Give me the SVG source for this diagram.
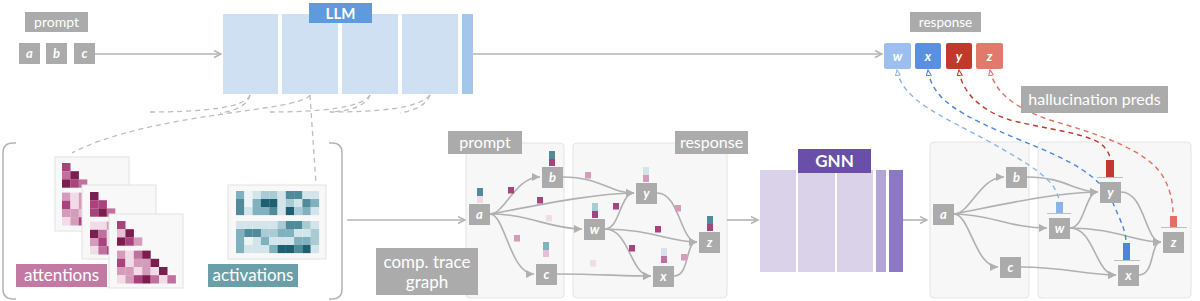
<svg xmlns="http://www.w3.org/2000/svg" width="1200" height="301" viewBox="0 0 1200 301">
<defs>
<style>
text{font-family:Lato,"Liberation Sans",sans-serif;fill:#fff;text-anchor:middle}
.lbl{fill:#ababab}
.node{fill:#ababab}
.tok{font-style:italic;font-weight:700;font-size:13px}
.panel{fill:#f7f7f7;stroke:#e4e4e4;stroke-width:1}
.mpanel{fill:#f8f8f8;stroke:#e2e2e2;stroke-width:1}
.edge{fill:none;stroke:#b0b0b0;stroke-width:1.6}
.main{fill:none;stroke:#b4b4b4;stroke-width:1.6}
.dash{fill:none;stroke:#bdbdbd;stroke-width:1.3;stroke-dasharray:5 4}
.hd{fill:none;stroke-width:1.4;stroke-dasharray:5 4}
.p0{fill:#f0dbe6}.p1{fill:#e5bfd3}.p2{fill:#d59bbb}.p3{fill:#c0709d}.p4{fill:#a8437e}.p5{fill:#7d1c4e}
.t0{fill:#eef4f5}.t1{fill:#d3e5ea}.t2{fill:#a8cbd4}.t3{fill:#7fb1be}.t4{fill:#4f8b9b}.t5{fill:#1f5f72}
.llm{fill:#cfe0f2}.gnn{fill:#dad2e9}
</style>
<marker id="chev" markerUnits="userSpaceOnUse" markerWidth="10" markerHeight="10" refX="8" refY="4" orient="auto">
<path d="M1,0.5 L8,4 L1,7.5" fill="none" stroke="#b4b4b4" stroke-width="1.4"/>
</marker>
<marker id="tri" markerUnits="userSpaceOnUse" markerWidth="10" markerHeight="10" refX="8" refY="4" orient="auto">
<path d="M0,0 L8,4 L0,8 z" fill="#b0b0b0"/>
</marker>
<marker id="hw" markerUnits="userSpaceOnUse" markerWidth="8" markerHeight="8" refX="6" refY="3" orient="auto-start-reverse">
<path d="M0.5,0.5 L6,3 L0.5,5.5 z" fill="#fff" stroke="#8ab4ea" stroke-width="1"/>
</marker>
<marker id="hx" markerUnits="userSpaceOnUse" markerWidth="8" markerHeight="8" refX="6" refY="3" orient="auto-start-reverse">
<path d="M0.5,0.5 L6,3 L0.5,5.5 z" fill="#fff" stroke="#4a86e0" stroke-width="1"/>
</marker>
<marker id="hy" markerUnits="userSpaceOnUse" markerWidth="8" markerHeight="8" refX="6" refY="3" orient="auto-start-reverse">
<path d="M0.5,0.5 L6,3 L0.5,5.5 z" fill="#fff" stroke="#c0392b" stroke-width="1"/>
</marker>
<marker id="hz" markerUnits="userSpaceOnUse" markerWidth="8" markerHeight="8" refX="6" refY="3" orient="auto-start-reverse">
<path d="M0.5,0.5 L6,3 L0.5,5.5 z" fill="#fff" stroke="#e07060" stroke-width="1"/>
</marker>
</defs>
<rect width="1200" height="301" fill="#fff"/>

<!-- prompt tokens -->
<g id="prompt-label"><rect class="lbl" x="25" y="12" width="63" height="20"/><text x="56.5" y="27" font-size="14">prompt</text></g>
<g id="tok-a"><rect class="node" x="19" y="43" width="21" height="21"/><text class="tok" x="29.5" y="58">a</text></g>
<g id="tok-b"><rect class="node" x="46" y="43" width="21" height="21"/><text class="tok" x="56.5" y="58">b</text></g>
<g id="tok-c"><rect class="node" x="74" y="43" width="21" height="21"/><text class="tok" x="84.5" y="58">c</text></g>

<!-- LLM -->
<g id="llm">
<rect class="llm" x="223" y="14" width="55" height="80"/>
<rect class="llm" x="282" y="14" width="56" height="80"/>
<rect class="llm" x="342" y="14" width="56" height="80"/>
<rect class="llm" x="402" y="14" width="56" height="80"/>
<rect x="462" y="14" width="11" height="80" fill="#a3c6ea"/>
<rect x="309" y="3" width="63" height="20" fill="#5d9bdc"/>
<text x="340.5" y="18.5" font-size="15" font-weight="700">LLM</text>
</g>

<!-- response tokens -->
<g id="response-label"><rect class="lbl" x="910" y="12" width="71" height="20"/><text x="945.5" y="27" font-size="13.5">response</text></g>
<g id="resp-w"><rect x="884" y="43" width="27" height="26" rx="2" fill="#9dbff0"/><text class="tok" x="897.5" y="61">w</text></g>
<g id="resp-x"><rect x="915" y="43" width="26" height="26" rx="2" fill="#5b8fe0"/><text class="tok" x="928" y="61">x</text></g>
<g id="resp-y"><rect x="946" y="43" width="26" height="26" rx="2" fill="#c0392b"/><text class="tok" x="959" y="61">y</text></g>
<g id="resp-z"><rect x="976" y="43" width="27" height="26" rx="2" fill="#e07a6a"/><text class="tok" x="989.5" y="61">z</text></g>

<!-- bracket -->
<g id="bracket" fill="none" stroke="#b4b4b4" stroke-width="1.5">
<path d="M16,143 L13,143 Q3,143 3,153 L3,289 Q3,299 13,299 L16,299"/>
<path d="M329,143 L332,143 Q342,143 342,153 L342,289 Q342,299 332,299 L329,299"/>
</g>

<!-- attentions -->
<g id="attentions">
<rect class="mpanel" x="55" y="157" width="74" height="74"/>
<g transform="translate(62,163)">
<rect class="p4" x="0" y="0" width="8.5" height="8.3"/>
<rect class="p3" x="0" y="8.2" width="8.5" height="8.3"/><rect class="p5" x="8.4" y="8.2" width="8.5" height="8.3"/>
<rect class="p5" x="0" y="16.4" width="8.5" height="8.3"/><rect class="p4" x="8.4" y="16.4" width="8.5" height="8.3"/><rect class="p3" x="16.8" y="16.4" width="8.5" height="8.3"/>
<rect class="p2" x="0" y="29.6" width="8.5" height="8.3"/><rect class="p0" x="8.4" y="29.6" width="8.5" height="8.3"/><rect class="p2" x="16.8" y="29.6" width="8.5" height="8.3"/><rect class="p4" x="25.2" y="29.6" width="8.5" height="8.3"/>
<rect class="p4" x="0" y="37.8" width="8.5" height="8.3"/><rect class="p0" x="8.4" y="37.8" width="8.5" height="8.3"/><rect class="p2" x="16.8" y="37.8" width="8.5" height="8.3"/><rect class="p1" x="25.2" y="37.8" width="8.5" height="8.3"/><rect class="p5" x="33.6" y="37.8" width="8.5" height="8.3"/>
<rect class="p2" x="0" y="46" width="8.5" height="8.3"/><rect class="p2" x="8.4" y="46" width="8.5" height="8.3"/><rect class="p1" x="16.8" y="46" width="8.5" height="8.3"/><rect class="p3" x="25.2" y="46" width="8.5" height="8.3"/><rect class="p1" x="33.6" y="46" width="8.5" height="8.3"/><rect class="p5" x="42" y="46" width="8.5" height="8.3"/>
<rect class="p0" x="0" y="54.2" width="8.5" height="8.3"/><rect class="p2" x="8.4" y="54.2" width="8.5" height="8.3"/><rect class="p4" x="16.8" y="54.2" width="8.5" height="8.3"/><rect class="p5" x="25.2" y="54.2" width="8.5" height="8.3"/><rect class="p3" x="33.6" y="54.2" width="8.5" height="8.3"/><rect class="p0" x="42" y="54.2" width="8.5" height="8.3"/><rect class="p2" x="50.4" y="54.2" width="8.5" height="8.3"/>
</g>
<rect class="mpanel" x="82" y="185" width="74" height="74"/>
<g transform="translate(90,192)">
<rect class="p5" x="0" y="0" width="8.5" height="8.3"/>
<rect class="p4" x="0" y="8.2" width="8.5" height="8.3"/><rect class="p4" x="8.4" y="8.2" width="8.5" height="8.3"/>
<rect class="p4" x="0" y="16.4" width="8.5" height="8.3"/><rect class="p5" x="8.4" y="16.4" width="8.5" height="8.3"/><rect class="p3" x="16.8" y="16.4" width="8.5" height="8.3"/>
<rect class="p0" x="0" y="29.6" width="8.5" height="8.3"/><rect class="p0" x="8.4" y="29.6" width="8.5" height="8.3"/><rect class="p2" x="16.8" y="29.6" width="8.5" height="8.3"/><rect class="p3" x="25.2" y="29.6" width="8.5" height="8.3"/>
<rect class="p5" x="0" y="37.8" width="8.5" height="8.3"/><rect class="p3" x="8.4" y="37.8" width="8.5" height="8.3"/><rect class="p0" x="16.8" y="37.8" width="8.5" height="8.3"/><rect class="p2" x="25.2" y="37.8" width="8.5" height="8.3"/><rect class="p5" x="33.6" y="37.8" width="8.5" height="8.3"/>
<rect class="p2" x="0" y="46" width="8.5" height="8.3"/><rect class="p4" x="8.4" y="46" width="8.5" height="8.3"/><rect class="p0" x="16.8" y="46" width="8.5" height="8.3"/><rect class="p1" x="25.2" y="46" width="8.5" height="8.3"/><rect class="p3" x="33.6" y="46" width="8.5" height="8.3"/><rect class="p5" x="42" y="46" width="8.5" height="8.3"/>
<rect class="p0" x="0" y="54.2" width="8.5" height="8.3"/><rect class="p3" x="8.4" y="54.2" width="8.5" height="8.3"/><rect class="p4" x="16.8" y="54.2" width="8.5" height="8.3"/><rect class="p1" x="25.2" y="54.2" width="8.5" height="8.3"/><rect class="p5" x="33.6" y="54.2" width="8.5" height="8.3"/><rect class="p2" x="42" y="54.2" width="8.5" height="8.3"/><rect class="p0" x="50.4" y="54.2" width="8.5" height="8.3"/>
</g>
<rect class="mpanel" x="109" y="214" width="74" height="74"/>
<g transform="translate(117,221)">
<rect class="p4" x="0" y="0" width="8.5" height="8.3"/>
<rect class="p1" x="0" y="8.2" width="8.5" height="8.3"/><rect class="p5" x="8.4" y="8.2" width="8.5" height="8.3"/>
<rect class="p5" x="0" y="16.4" width="8.5" height="8.3"/><rect class="p4" x="8.4" y="16.4" width="8.5" height="8.3"/><rect class="p2" x="16.8" y="16.4" width="8.5" height="8.3"/>
<rect class="p2" x="0" y="29.6" width="8.5" height="8.3"/><rect class="p0" x="8.4" y="29.6" width="8.5" height="8.3"/><rect class="p3" x="16.8" y="29.6" width="8.5" height="8.3"/><rect class="p5" x="25.2" y="29.6" width="8.5" height="8.3"/>
<rect class="p4" x="0" y="37.8" width="8.5" height="8.3"/><rect class="p0" x="8.4" y="37.8" width="8.5" height="8.3"/><rect class="p2" x="16.8" y="37.8" width="8.5" height="8.3"/><rect class="p2" x="25.2" y="37.8" width="8.5" height="8.3"/><rect class="p5" x="33.6" y="37.8" width="8.5" height="8.3"/>
<rect class="p2" x="0" y="46" width="8.5" height="8.3"/><rect class="p2" x="8.4" y="46" width="8.5" height="8.3"/><rect class="p0" x="16.8" y="46" width="8.5" height="8.3"/><rect class="p2" x="25.2" y="46" width="8.5" height="8.3"/><rect class="p0" x="33.6" y="46" width="8.5" height="8.3"/><rect class="p5" x="42" y="46" width="8.5" height="8.3"/>
<rect class="p0" x="0" y="54.2" width="8.5" height="8.3"/><rect class="p2" x="8.4" y="54.2" width="8.5" height="8.3"/><rect class="p4" x="16.8" y="54.2" width="8.5" height="8.3"/><rect class="p5" x="25.2" y="54.2" width="8.5" height="8.3"/><rect class="p3" x="33.6" y="54.2" width="8.5" height="8.3"/><rect class="p0" x="42" y="54.2" width="8.5" height="8.3"/><rect class="p3" x="50.4" y="54.2" width="8.5" height="8.3"/>
</g>
<rect x="16" y="264" width="91" height="23" fill="#c27aa3"/>
<text x="61.5" y="281" font-size="17">attentions</text>
</g>

<!-- activations -->
<g id="activations">
<rect class="mpanel" x="228" y="185" width="98" height="74"/>
<g transform="translate(236,191)">
<rect class="t3" x="0" y="0" width="8.4" height="8.1"/><rect class="t0" x="8.3" y="0" width="8.4" height="8.1"/><rect class="t1" x="16.6" y="0" width="8.4" height="8.1"/><rect class="t2" x="24.9" y="0" width="8.4" height="8.1"/><rect class="t2" x="33.2" y="0" width="8.4" height="8.1"/><rect class="t1" x="41.5" y="0" width="8.4" height="8.1"/><rect class="t4" x="49.8" y="0" width="8.4" height="8.1"/><rect class="t4" x="58.1" y="0" width="8.4" height="8.1"/><rect class="t1" x="66.4" y="0" width="8.4" height="8.1"/><rect class="t1" x="74.7" y="0" width="8.4" height="8.1"/>
<rect class="t4" x="0" y="8" width="8.4" height="8.1"/><rect class="t0" x="8.3" y="8" width="8.4" height="8.1"/><rect class="t3" x="16.6" y="8" width="8.4" height="8.1"/><rect class="t5" x="24.9" y="8" width="8.4" height="8.1"/><rect class="t5" x="33.2" y="8" width="8.4" height="8.1"/><rect class="t1" x="41.5" y="8" width="8.4" height="8.1"/><rect class="t2" x="49.8" y="8" width="8.4" height="8.1"/><rect class="t1" x="58.1" y="8" width="8.4" height="8.1"/><rect class="t4" x="66.4" y="8" width="8.4" height="8.1"/><rect class="t3" x="74.7" y="8" width="8.4" height="8.1"/>
<rect class="t4" x="0" y="16" width="8.4" height="8.1"/><rect class="t1" x="8.3" y="16" width="8.4" height="8.1"/><rect class="t3" x="16.6" y="16" width="8.4" height="8.1"/><rect class="t3" x="24.9" y="16" width="8.4" height="8.1"/><rect class="t4" x="33.2" y="16" width="8.4" height="8.1"/><rect class="t1" x="41.5" y="16" width="8.4" height="8.1"/><rect class="t5" x="49.8" y="16" width="8.4" height="8.1"/><rect class="t2" x="58.1" y="16" width="8.4" height="8.1"/><rect class="t3" x="66.4" y="16" width="8.4" height="8.1"/><rect class="t1" x="74.7" y="16" width="8.4" height="8.1"/>
<rect class="t1" x="0" y="30" width="8.4" height="8.1"/><rect class="t1" x="8.3" y="30" width="8.4" height="8.1"/><rect class="t1" x="16.6" y="30" width="8.4" height="8.1"/><rect class="t1" x="24.9" y="30" width="8.4" height="8.1"/><rect class="t1" x="33.2" y="30" width="8.4" height="8.1"/><rect class="t2" x="41.5" y="30" width="8.4" height="8.1"/><rect class="t4" x="49.8" y="30" width="8.4" height="8.1"/><rect class="t4" x="58.1" y="30" width="8.4" height="8.1"/><rect class="t2" x="66.4" y="30" width="8.4" height="8.1"/><rect class="t1" x="74.7" y="30" width="8.4" height="8.1"/>
<rect class="t3" x="0" y="38" width="8.4" height="8.1"/><rect class="t4" x="8.3" y="38" width="8.4" height="8.1"/><rect class="t4" x="16.6" y="38" width="8.4" height="8.1"/><rect class="t2" x="24.9" y="38" width="8.4" height="8.1"/><rect class="t2" x="33.2" y="38" width="8.4" height="8.1"/><rect class="t3" x="41.5" y="38" width="8.4" height="8.1"/><rect class="t3" x="49.8" y="38" width="8.4" height="8.1"/><rect class="t1" x="58.1" y="38" width="8.4" height="8.1"/><rect class="t1" x="66.4" y="38" width="8.4" height="8.1"/><rect class="t2" x="74.7" y="38" width="8.4" height="8.1"/>
<rect class="t3" x="0" y="46" width="8.4" height="8.1"/><rect class="t0" x="8.3" y="46" width="8.4" height="8.1"/><rect class="t1" x="16.6" y="46" width="8.4" height="8.1"/><rect class="t3" x="24.9" y="46" width="8.4" height="8.1"/><rect class="t1" x="33.2" y="46" width="8.4" height="8.1"/><rect class="t1" x="41.5" y="46" width="8.4" height="8.1"/><rect class="t1" x="49.8" y="46" width="8.4" height="8.1"/><rect class="t3" x="58.1" y="46" width="8.4" height="8.1"/><rect class="t3" x="66.4" y="46" width="8.4" height="8.1"/><rect class="t2" x="74.7" y="46" width="8.4" height="8.1"/>
<rect class="t3" x="0" y="54" width="8.4" height="8.1"/><rect class="t1" x="8.3" y="54" width="8.4" height="8.1"/><rect class="t1" x="16.6" y="54" width="8.4" height="8.1"/><rect class="t1" x="24.9" y="54" width="8.4" height="8.1"/><rect class="t3" x="33.2" y="54" width="8.4" height="8.1"/><rect class="t5" x="41.5" y="54" width="8.4" height="8.1"/><rect class="t5" x="49.8" y="54" width="8.4" height="8.1"/><rect class="t4" x="58.1" y="54" width="8.4" height="8.1"/><rect class="t5" x="66.4" y="54" width="8.4" height="8.1"/><rect class="t1" x="74.7" y="54" width="8.4" height="8.1"/>
</g>
<rect x="208" y="264" width="90" height="23" fill="#6a9fa9"/>
<text x="253" y="281" font-size="17">activations</text>
</g>

<!-- trace graph panels -->
<g id="trace-panels">
<rect class="panel" x="466" y="143" width="98" height="155" rx="4"/>
<rect class="panel" x="573" y="143" width="154" height="155" rx="4"/>
</g>

<!-- GNN -->
<g id="gnn">
<rect class="gnn" x="760" y="170" width="36" height="102"/>
<rect class="gnn" x="798" y="170" width="37" height="102"/>
<rect class="gnn" x="837" y="170" width="36" height="102"/>
<rect x="876" y="170" width="10" height="102" fill="#b3a4d6"/>
<rect x="889" y="170" width="14" height="102" fill="#8c79c4"/>
<rect x="798" y="149" width="73" height="24" fill="#6a4fa9"/>
<text x="834.5" y="167" font-size="17" font-weight="700">GNN</text>
</g>

<!-- right graph panels -->
<g id="pred-panels">
<rect class="panel" x="930" y="142" width="99" height="156" rx="4"/>
<rect class="panel" x="1038" y="142" width="153" height="156" rx="4"/>
</g>

<!-- connectors -->
<g id="connectors">
<path class="main" d="M95,54 L221,54" marker-end="url(#chev)"/>
<path class="main" d="M473,54 L882,54" marker-end="url(#chev)"/>
<path class="main" d="M347,220 L465,220" marker-end="url(#chev)"/>
<path class="main" d="M727,220 L758,220" marker-end="url(#chev)"/>
<path class="main" d="M903,220 L927,220" marker-end="url(#chev)"/>

<path class="dash" d="M250,95 C246,108 200,112 150,112"/>
<path class="dash" d="M250,95 C248,105 235,111 220,113"/>
<path class="dash" d="M310,95 C300,112 150,112 72,153"/>
<path class="dash" d="M310,95 L316,184"/>
<path class="dash" d="M370,95 C366,106 350,111 330,112"/>
<path class="dash" d="M370,95 C362,108 320,112 270,112"/>
<path class="dash" d="M430,95 C426,106 412,111 400,113"/>
<path class="dash" d="M430,95 C420,108 380,112 330,112"/>

<!-- left trace graph edges -->
<path class="edge" d="M490,214 C505,214 515,177 540,177" marker-end="url(#tri)"/>
<path class="edge" d="M490,214 C505,214 510,274 534,274" marker-end="url(#tri)"/>
<path class="edge" d="M490,214 C530,214 550,229 582,229" marker-end="url(#tri)"/>
<path class="edge" d="M490,214 C540,205 590,194 634,193" marker-end="url(#tri)"/>
<path class="edge" d="M563,177 C600,177 610,193 634,193" marker-end="url(#tri)"/>
<path class="edge" d="M605,229 C620,229 620,193 634,193" marker-end="url(#tri)"/>
<path class="edge" d="M605,229 C630,229 630,276 651,276" marker-end="url(#tri)"/>
<path class="edge" d="M605,229 C650,229 670,242 697,242" marker-end="url(#tri)"/>
<path class="edge" d="M657,193 C680,193 680,242 697,242" marker-end="url(#tri)"/>
<path class="edge" d="M557,274 C600,274 620,276 651,276" marker-end="url(#tri)"/>
<path class="edge" d="M674,276 C690,276 685,242 697,242" marker-end="url(#tri)"/>

<!-- right graph edges -->
<path class="edge" d="M954,214 C970,214 980,177 1004,177" marker-end="url(#tri)"/>
<path class="edge" d="M954,214 C970,214 975,267 998,267" marker-end="url(#tri)"/>
<path class="edge" d="M954,214 C990,214 1010,228 1047,228" marker-end="url(#tri)"/>
<path class="edge" d="M954,214 C1000,205 1050,193 1098,192" marker-end="url(#tri)"/>
<path class="edge" d="M1027,177 C1065,177 1075,192 1098,192" marker-end="url(#tri)"/>
<path class="edge" d="M1070,228 C1085,228 1085,192 1098,192" marker-end="url(#tri)"/>
<path class="edge" d="M1070,228 C1095,228 1095,275 1116,275" marker-end="url(#tri)"/>
<path class="edge" d="M1070,228 C1115,228 1135,242 1161,242" marker-end="url(#tri)"/>
<path class="edge" d="M1121,192 C1145,192 1145,242 1161,242" marker-end="url(#tri)"/>
<path class="edge" d="M1021,267 C1065,267 1085,275 1116,275" marker-end="url(#tri)"/>
<path class="edge" d="M1139,275 C1155,275 1150,242 1161,242" marker-end="url(#tri)"/>

<!-- hallucination dashed links -->
<path class="hd" stroke="#8ab4ea" d="M897,70 C902,100 940,115 990,142 C1030,165 1058,180 1059,202" marker-start="url(#hw)"/>
<path class="hd" stroke="#4a86e0" d="M928,70 C932,100 960,115 1020,140 C1070,160 1100,175 1113,203 C1120,220 1126,230 1126,243" marker-start="url(#hx)"/>
<path class="hd" stroke="#c0392b" d="M959,70 C962,95 985,112 1010,120 C1050,130 1080,132 1100,143 C1108,150 1110,155 1110,160" marker-start="url(#hy)"/>
<path class="hd" stroke="#e07060" d="M990,70 C995,95 1020,110 1050,120 C1100,135 1150,150 1165,180 C1172,195 1173,205 1173,216" marker-start="url(#hz)"/>
</g>

<g id="halluc-label"><rect class="lbl" x="1021" y="86" width="147" height="27"/><text x="1094.5" y="105" font-size="16">hallucination preds</text></g>

<!-- trace graph nodes -->
<g id="t-a"><rect class="node" x="469" y="204" width="21" height="21"/><text class="tok" x="479.5" y="219">a</text><rect class="t4" x="477" y="188" width="6" height="8"/><rect class="p0" x="477" y="196" width="6" height="7"/></g>
<g id="t-b"><rect class="node" x="542" y="167" width="21" height="21"/><text class="tok" x="552.5" y="182">b</text><rect class="t4" x="549" y="151" width="6" height="8"/><rect class="p4" x="549" y="159" width="6" height="7"/></g>
<g id="t-c"><rect class="node" x="536" y="264" width="21" height="21"/><text class="tok" x="546.5" y="279">c</text><rect class="t3" x="543" y="242" width="6" height="8"/><rect class="p1" x="543" y="250" width="6" height="7"/></g>
<g id="t-w"><rect class="node" x="584" y="219" width="21" height="21"/><text class="tok" x="594.5" y="234">w</text><rect class="t2" x="592" y="203" width="6" height="8"/><rect class="p4" x="592" y="211" width="6" height="7"/></g>
<g id="t-y"><rect class="node" x="636" y="183" width="21" height="21"/><text class="tok" x="646.5" y="198">y</text><rect class="t1" x="643" y="167" width="6" height="8"/><rect class="p2" x="643" y="175" width="6" height="7"/></g>
<g id="t-x"><rect class="node" x="653" y="266" width="21" height="21"/><text class="tok" x="663.5" y="281">x</text><rect class="t1" x="661" y="248" width="6" height="8"/><rect class="p3" x="661" y="256" width="6" height="7"/></g>
<g id="t-z"><rect class="node" x="699" y="232" width="21" height="21"/><text class="tok" x="709.5" y="247">z</text><rect class="t4" x="707" y="216" width="6" height="8"/><rect class="p4" x="707" y="224" width="6" height="7"/></g>

<!-- edge attention squares -->
<g id="edge-squares">
<rect class="p4" x="508" y="187" width="6" height="6.5"/>
<rect class="p4" x="537" y="197" width="6" height="6.5"/>
<rect class="p0" x="546" y="215" width="6" height="6.5"/>
<rect class="p2" x="514" y="235" width="6" height="6.5"/>
<rect class="p2" x="585" y="172" width="6" height="6.5"/>
<rect class="p4" x="613" y="203" width="6" height="6.5"/>
<rect class="p2" x="675" y="205" width="6" height="6.5"/>
<rect class="p4" x="655" y="226" width="6" height="6.5"/>
<rect class="p4" x="629" y="245" width="6" height="6.5"/>
<rect class="p0" x="590" y="260" width="6" height="6.5"/>
<rect class="p2" x="681" y="254" width="6" height="6.5"/>
</g>

<!-- trace graph labels -->
<g id="tg-prompt"><rect class="lbl" x="448" y="131" width="74" height="23"/><text x="485" y="148" font-size="16">prompt</text></g>
<g id="tg-response"><rect class="lbl" x="675" y="131" width="73" height="23"/><text x="711.5" y="148" font-size="16">response</text></g>
<g id="tg-caption"><rect class="lbl" x="376" y="248" width="102" height="47"/><text x="427" y="268" font-size="17">comp. trace</text><text x="427" y="288" font-size="17">graph</text></g>

<!-- prediction graph nodes -->
<g id="p-a"><rect class="node" x="933" y="204" width="21" height="21"/><text class="tok" x="943.5" y="219">a</text></g>
<g id="p-b"><rect class="node" x="1006" y="167" width="21" height="21"/><text class="tok" x="1016.5" y="182">b</text></g>
<g id="p-c"><rect class="node" x="1000" y="257" width="21" height="21"/><text class="tok" x="1010.5" y="272">c</text></g>
<g id="p-w"><rect class="node" x="1049" y="218" width="21" height="21"/><text class="tok" x="1059.5" y="233">w</text><rect x="1056" y="202" width="7" height="11" fill="#8ab4ea"/><line x1="1047" y1="213.5" x2="1071" y2="213.5" stroke="#bdbdbd" stroke-width="1"/></g>
<g id="p-y"><rect class="node" x="1100" y="182" width="21" height="21"/><text class="tok" x="1110.5" y="197">y</text><rect x="1106" y="160" width="8" height="17" fill="#c0392b"/><line x1="1097" y1="177.5" x2="1123" y2="177.5" stroke="#bdbdbd" stroke-width="1"/></g>
<g id="p-x"><rect class="node" x="1118" y="265" width="21" height="21"/><text class="tok" x="1128.5" y="280">x</text><rect x="1123" y="243" width="7" height="17" fill="#4a86e0"/><line x1="1114" y1="260.5" x2="1140" y2="260.5" stroke="#bdbdbd" stroke-width="1"/></g>
<g id="p-z"><rect class="node" x="1163" y="232" width="21" height="21"/><text class="tok" x="1173.5" y="247">z</text><rect x="1170" y="216" width="7" height="11" fill="#e07060"/><line x1="1161" y1="227.5" x2="1187" y2="227.5" stroke="#bdbdbd" stroke-width="1"/></g>
</svg>
